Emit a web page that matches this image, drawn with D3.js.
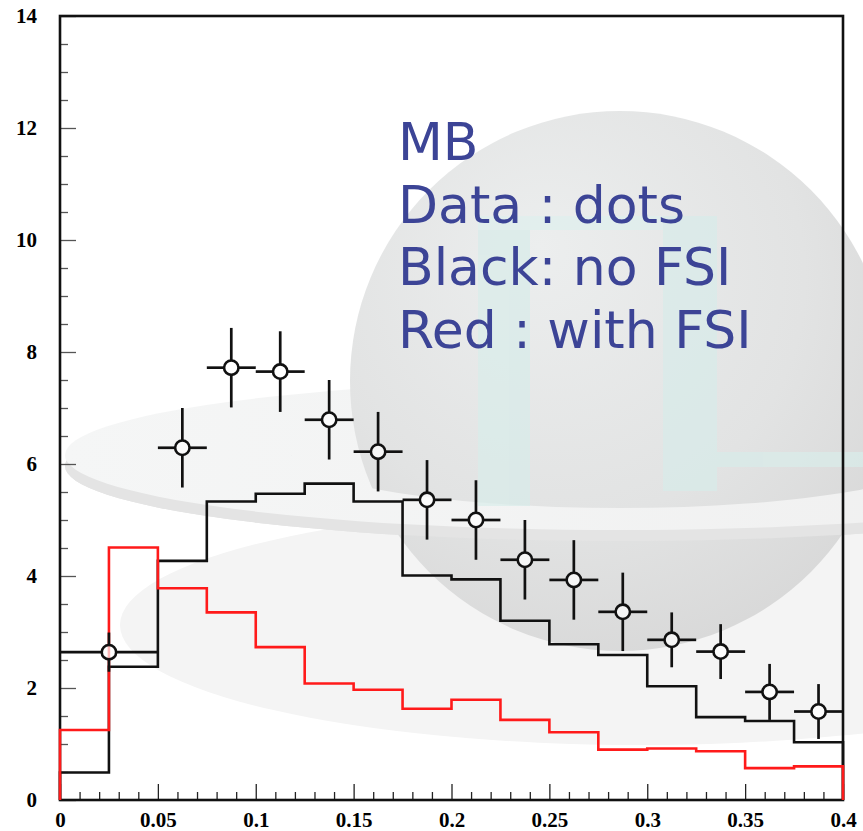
<!DOCTYPE html>
<html>
<head>
<meta charset="utf-8">
<script src="https://cdn.jsdelivr.net/npm/d3@7"></script>
<style>
  html, body { margin: 0; padding: 0; background: #ffffff; }
  svg { display: block; }
</style>
</head>
<body>
<script>
// ---- histogram bins (lower edges, width 0.025) ----
const binLow = [0, 0.025, 0.05, 0.075, 0.1, 0.125, 0.15, 0.175,
                0.2, 0.225, 0.25, 0.275, 0.3, 0.325, 0.35, 0.375];
const binWidth = 0.025;

// ---- model predictions ----
const noFSI   = [0.49, 2.38, 4.27, 5.33, 5.47, 5.65, 5.33, 4.01,
                 3.94, 3.20, 2.78, 2.59, 2.03, 1.48, 1.41, 1.03];
const withFSI = [1.25, 4.51, 3.78, 3.35, 2.73, 2.08, 1.97, 1.63,
                 1.79, 1.43, 1.21, 0.90, 0.92, 0.87, 0.57, 0.60];

// ---- measured points ----
const dataX    = [0.025, 0.0625, 0.0875, 0.1125, 0.1375, 0.1625, 0.1875, 0.2125,
                  0.2375, 0.2625, 0.2875, 0.3125, 0.3375, 0.3625, 0.3875];
const dataXerr = [0.025, 0.0125, 0.0125, 0.0125, 0.0125, 0.0125, 0.0125, 0.0125,
                  0.0125, 0.0125, 0.0125, 0.0125, 0.0125, 0.0125, 0.0125];
const dataY    = [2.64, 6.29, 7.72, 7.65, 6.79, 6.22, 5.36, 5.00,
                  4.29, 3.93, 3.36, 2.86, 2.65, 1.93, 1.58];
const dataYerr = [0.35, 0.71, 0.71, 0.72, 0.71, 0.71, 0.71, 0.71,
                  0.71, 0.71, 0.70, 0.49, 0.49, 0.50, 0.49];

// ---- axes ----
const xMajorTicks = [0, 0.05, 0.1, 0.15, 0.2, 0.25, 0.3, 0.35, 0.4];
const yMajorTicks = [0, 2, 4, 6, 8, 10, 12, 14];
const xTickLabels = ["0", "0.05", "0.1", "0.15", "0.2", "0.25", "0.3", "0.35", "0.4"];
const yTickLabels = ["0", "2", "4", "6", "8", "10", "12", "14"];

// ---- annotation ----
const noteLines = ["MB", "Data : dots", "Black: no FSI", "Red : with FSI"];

const W = 863, H = 831;
const plot = { left: 60, right: 843, top: 16, bottom: 800 };

const svg = d3.select("body").append("svg")
  .attr("width", W).attr("height", H);

const defs = svg.append("defs");

// ---------- faint logo in the background ----------
const sphereGrad = defs.append("radialGradient")
  .attr("id", "sphereGrad")
  .attr("cx", "0.42").attr("cy", "0.35").attr("r", "0.75")
  .attr("fx", "0.35").attr("fy", "0.25");
sphereGrad.append("stop").attr("offset", "0").attr("stop-color", "#eceeee");
sphereGrad.append("stop").attr("offset", "0.6").attr("stop-color", "#e2e3e3");
sphereGrad.append("stop").attr("offset", "1").attr("stop-color", "#d6d6d6");

const ringGrad = defs.append("linearGradient")
  .attr("id", "ringGrad").attr("x1", "0").attr("y1", "0").attr("x2", "1").attr("y2", "0");
ringGrad.append("stop").attr("offset", "0").attr("stop-color", "#f5f6f6");
ringGrad.append("stop").attr("offset", "1").attr("stop-color", "#efefef");

defs.append("clipPath").attr("id", "frontHalf")
  .append("rect").attr("x", 0).attr("y", 455).attr("width", W).attr("height", H - 455);

function ellipsePath(cx, cy, rx, ry) {
  return `M${cx - rx},${cy}a${rx},${ry} 0 1,0 ${2 * rx},0a${rx},${ry} 0 1,0 ${-2 * rx},0Z`;
}

const logo = svg.append("g").attr("class", "logo");
const ring = { cx: 620, cy: 455, rx: 555, ry: 75 };
const hole = { cx: 620, cy: 450, rx: 330, ry: 58 };
const rimDrop = 11;

// soft shadow below the ring
logo.append("ellipse").attr("cx", 640).attr("cy", 625).attr("rx", 520).attr("ry", 120)
  .attr("fill", "#f4f4f4");
// ring, back part (solid)
logo.append("path").attr("d", ellipsePath(ring.cx, ring.cy + rimDrop, ring.rx, ring.ry))
  .attr("fill", "#e4e4e4");
logo.append("path").attr("d", ellipsePath(ring.cx, ring.cy, ring.rx, ring.ry))
  .attr("fill", "url(#ringGrad)");
// sphere
logo.append("circle").attr("cx", 620).attr("cy", 381).attr("r", 270)
  .attr("fill", "url(#sphereGrad)");
// front part of the ring passes in front of the sphere
const front = logo.append("g").attr("clip-path", "url(#frontHalf)");
front.append("path")
  .attr("d", ellipsePath(ring.cx, ring.cy + rimDrop, ring.rx, ring.ry) +
             ellipsePath(hole.cx, hole.cy + rimDrop, hole.rx, hole.ry))
  .attr("fill-rule", "evenodd").attr("fill", "#e4e4e4");
front.append("path")
  .attr("d", ellipsePath(ring.cx, ring.cy, ring.rx, ring.ry) +
             ellipsePath(hole.cx, hole.cy, hole.rx, hole.ry))
  .attr("fill-rule", "evenodd").attr("fill", "url(#ringGrad)");
// letters standing on the ring
const letters = logo.append("g").attr("opacity", 0.7);
letters.append("rect").attr("x", 478).attr("y", 216).attr("width", 52).attr("height", 290).attr("fill", "#d8ecea");
letters.append("rect").attr("x", 478).attr("y", 216).attr("width", 238).attr("height", 14).attr("fill", "#dff0ee");
letters.append("rect").attr("x", 663).attr("y", 216).attr("width", 54).attr("height", 275).attr("fill", "#d8ecea");
letters.append("rect").attr("x", 717).attr("y", 452).attr("width", 146).attr("height", 15).attr("fill", "#d8ecea");

// ---------- scales ----------
const x = d3.scaleLinear().domain([0, 0.4]).range([plot.left, plot.right]);
const y = d3.scaleLinear().domain([0, 14]).range([plot.bottom, plot.top]);

// ---------- axes (ticks point into the frame) ----------
const labelFont = "'Liberation Serif', 'Times New Roman', serif";

const xMinor = d3.range(0, 41).map(i => i / 100).filter(v => Math.round(v * 100) % 5 !== 0);
const yMinor = d3.range(0, 29).map(i => i / 2).filter(v => v % 2 !== 0);

svg.append("g").attr("transform", `translate(0,${plot.bottom})`)
  .call(d3.axisBottom(x).tickValues(xMinor).tickSize(-8).tickFormat(""))
  .call(g => g.select(".domain").remove())
  .call(g => g.selectAll("line").attr("stroke", "#222").attr("stroke-width", 1.3));

svg.append("g").attr("transform", `translate(0,${plot.bottom})`)
  .call(d3.axisBottom(x).tickValues(xMajorTicks).tickSize(-16).tickPadding(12)
    .tickFormat((d, i) => xTickLabels[i]))
  .call(g => g.select(".domain").remove())
  .call(g => g.selectAll("line").attr("stroke", "#222").attr("stroke-width", 1.3))
  .call(g => g.selectAll("text").attr("font-family", labelFont).attr("font-weight", "bold")
    .attr("font-size", 21).attr("fill", "#000"));

svg.append("g").attr("transform", `translate(${plot.left},0)`)
  .call(d3.axisLeft(y).tickValues(yMinor).tickSize(-8).tickFormat(""))
  .call(g => g.select(".domain").remove())
  .call(g => g.selectAll("line").attr("stroke", "#555").attr("stroke-width", 1.3));

svg.append("g").attr("transform", `translate(${plot.left},0)`)
  .call(d3.axisLeft(y).tickValues(yMajorTicks).tickSize(-16).tickPadding(23)
    .tickFormat((d, i) => yTickLabels[i]))
  .call(g => g.select(".domain").remove())
  .call(g => g.selectAll("line").attr("stroke", "#555").attr("stroke-width", 1.3))
  .call(g => g.selectAll("text").attr("font-family", labelFont).attr("font-weight", "bold")
    .attr("font-size", 21).attr("fill", "#000"));

// frame
svg.append("rect")
  .attr("x", x(0)).attr("y", y(14))
  .attr("width", x(0.4) - x(0)).attr("height", y(0) - y(14))
  .attr("fill", "none").attr("stroke", "#111").attr("stroke-width", 2.6);

// ---------- step histograms ----------
function stepPoints(values) {
  const pts = [[binLow[0], 0]];
  values.forEach((v, i) => {
    pts.push([binLow[i], v]);
    pts.push([binLow[i] + binWidth, v]);
  });
  pts.push([binLow[binLow.length - 1] + binWidth, 0]);
  return pts;
}
const stepLine = d3.line().x(d => x(d[0])).y(d => y(d[1]));

svg.append("path").datum(stepPoints(noFSI))
  .attr("d", stepLine).attr("fill", "none")
  .attr("stroke", "#111").attr("stroke-width", 2.6).attr("stroke-linejoin", "miter");

svg.append("path").datum(stepPoints(withFSI))
  .attr("d", stepLine).attr("fill", "none")
  .attr("stroke", "#ff1a1a").attr("stroke-width", 2.6).attr("stroke-linejoin", "miter");

// ---------- data points with error bars ----------
const r = 7.2;
const pts = dataX.map((d, i) => ({ x: d, ex: dataXerr[i], y: dataY[i], ey: dataYerr[i] }));
const gPts = svg.append("g");
pts.forEach(p => {
  const cx = x(p.x), cy = y(p.y);
  const segs = [
    [cx, y(p.y + p.ey), cx, cy - r],
    [cx, cy + r, cx, y(p.y - p.ey)],
    [x(p.x - p.ex), cy, cx - r, cy],
    [cx + r, cy, x(p.x + p.ex), cy]
  ];
  segs.forEach(s => {
    gPts.append("line")
      .attr("x1", s[0]).attr("y1", s[1]).attr("x2", s[2]).attr("y2", s[3])
      .attr("stroke", "#111").attr("stroke-width", 2.7);
  });
});
gPts.selectAll("circle").data(pts).join("circle")
  .attr("cx", d => x(d.x)).attr("cy", d => y(d.y)).attr("r", r)
  .attr("fill", "#ffffff").attr("fill-opacity", 0.7)
  .attr("stroke", "#111").attr("stroke-width", 2.6);

// ---------- annotation ----------
const note = svg.append("text")
  .attr("font-family", "'DejaVu Sans', 'Noto Sans', sans-serif")
  .attr("font-size", 52).attr("fill", "#3c4496");
noteLines.forEach((t, i) => {
  note.append("tspan").attr("x", 398).attr("y", 160 + i * 62.7).text(t);
});
</script>
</body>
</html>
